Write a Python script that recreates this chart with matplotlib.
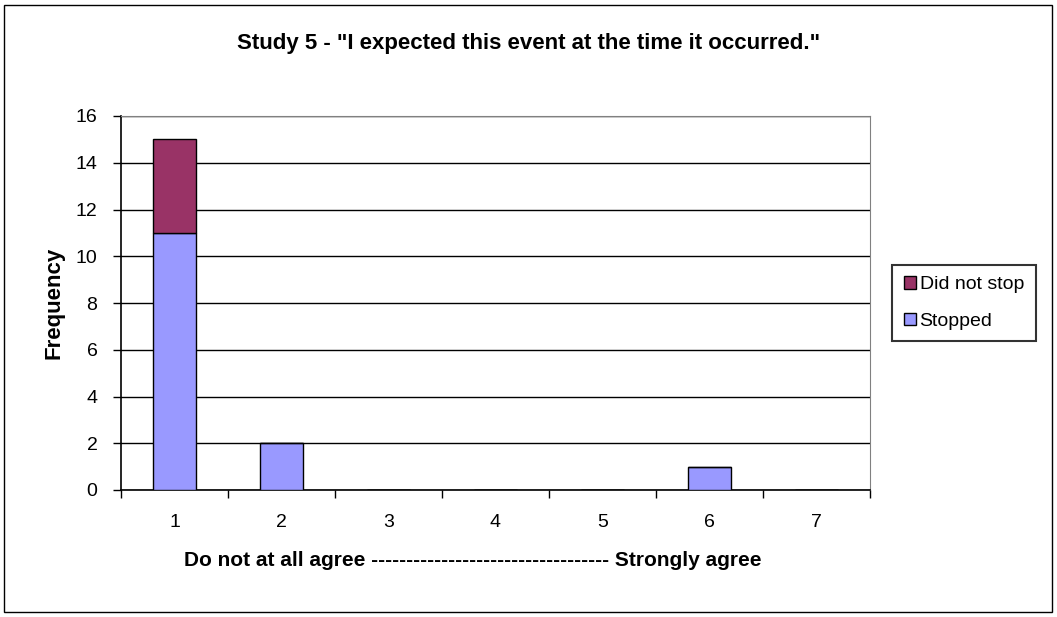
import matplotlib.pyplot as plt
from matplotlib.patches import Rectangle
import numpy as np

categories = ['1', '2', '3', '4', '5', '6', '7']
stopped = [11, 2, 0, 0, 0, 1, 0]
did_not_stop = [4, 0, 0, 0, 0, 0, 0]
y_ticks = [0, 2, 4, 6, 8, 10, 12, 14, 16]

fig = plt.figure(figsize=(10.57, 6.17), dpi=100)
plt.rcParams['font.family'] = ['Liberation Sans', 'DejaVu Sans']

# outer chart border
fig.patches.append(Rectangle((4 / 1057, 5 / 617), 1048 / 1057, 607 / 617,
                             transform=fig.transFigure, fill=False,
                             edgecolor='black', linewidth=1.0))

ax = fig.add_axes([121 / 1057, 127 / 617, 749 / 1057, 374 / 617])
x = np.arange(len(categories))
ax.bar(x, stopped, width=0.4, color='#9999ff', edgecolor='black', linewidth=1.0,
       label='Stopped', zorder=3)
ax.bar(x, did_not_stop, width=0.4, bottom=stopped, color='#993366',
       edgecolor='black', linewidth=1.0, label='Did not stop', zorder=3)

ax.set_xlim(-0.5, len(categories) - 0.5)
ax.set_ylim(0, 16)
ax.set_yticks(y_ticks)
ax.yaxis.grid(True, color='black', linewidth=1.0, zorder=0)
ax.set_xticks(x)
ax.set_xticklabels(categories, fontsize=14)
ax.set_xticks(np.arange(len(categories) + 1) - 0.5, minor=True)
ax.tick_params(axis='x', which='major', length=0, pad=17)
ax.tick_params(axis='x', which='minor', length=6, direction='out', width=1.0)
ax.tick_params(axis='y', length=6, direction='out', width=1.0, labelsize=14, pad=11)

ax.spines['top'].set_color('#808080')
ax.spines['right'].set_color('#808080')
ax.spines['top'].set_zorder(4)
ax.spines['left'].set_linewidth(1.2)
ax.spines['bottom'].set_linewidth(1.2)

ax.set_ylabel('Frequency', fontsize=16, fontweight='bold', labelpad=8)
ax.set_xlabel('Do not at all agree ' + '-' * 34 + ' Strongly agree',
              fontsize=15, fontweight='bold')
ax.xaxis.set_label_coords(0.47, -0.163)
fig.text(529 / 1057, 1 - 44 / 617,
         'Study 5 - "I expected this event at the time it occurred."',
         ha='center', va='center', fontsize=16, fontweight='bold')

handles, labels = ax.get_legend_handles_labels()
leg = fig.legend(handles[::-1], labels[::-1], loc='center',
                 bbox_to_anchor=(964 / 1057, 1 - 303 / 617), fontsize=14,
                 frameon=True, fancybox=False, edgecolor='black',
                 handlelength=0.6, handleheight=0.6, handletextpad=0.2,
                 labelspacing=1.0, borderpad=0.6)
leg.get_frame().set_linewidth(1.5)

fig.savefig('out.png', dpi=100)
